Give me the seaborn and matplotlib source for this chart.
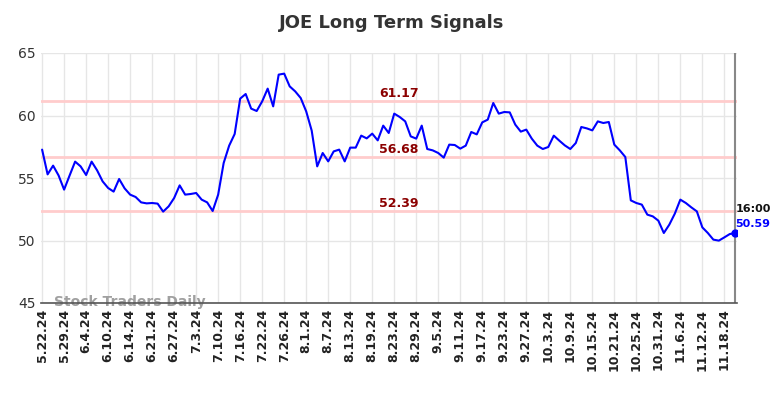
import matplotlib
matplotlib.use("Agg")
import matplotlib.pyplot as plt
import seaborn as sns
import pandas as pd
import numpy as np

title = "JOE Long Term Signals"
tick_labels = ["5.22.24", "5.29.24", "6.4.24", "6.10.24", "6.14.24", "6.21.24", "6.27.24",
               "7.3.24", "7.10.24", "7.16.24", "7.22.24", "7.26.24", "8.1.24", "8.7.24",
               "8.13.24", "8.19.24", "8.23.24", "8.29.24", "9.5.24", "9.11.24", "9.17.24",
               "9.23.24", "9.27.24", "10.3.24", "10.9.24", "10.15.24", "10.21.24", "10.25.24",
               "10.31.24", "11.6.24", "11.12.24", "11.18.24"]
tick_step = 4
values = [57.27, 55.29, 55.99, 55.2, 54.07, 55.2, 56.31, 55.93, 55.24, 56.31,
          55.61, 54.73, 54.2, 53.91, 54.92, 54.17, 53.67, 53.48, 53.05, 52.97,
          53.0, 52.95, 52.31, 52.73, 53.4, 54.41, 53.67, 53.72, 53.8, 53.27,
          53.05, 52.36, 53.67, 56.2, 57.59, 58.52, 61.35, 61.72, 60.55, 60.36,
          61.13, 62.15, 60.73, 63.27, 63.35, 62.33, 61.93, 61.4, 60.33, 58.79,
          55.93, 57.0, 56.33, 57.13, 57.27, 56.33, 57.43, 57.43, 58.39, 58.17,
          58.55, 58.01, 59.19, 58.6, 60.15, 59.88, 59.53, 58.33, 58.15, 59.19,
          57.32, 57.21, 57.0, 56.63, 57.67, 57.64, 57.35, 57.59, 58.68, 58.49,
          59.45, 59.67, 61.0, 60.15, 60.28, 60.25, 59.27, 58.71, 58.87, 58.15,
          57.59, 57.32, 57.48, 58.39, 57.99, 57.61, 57.32, 57.8, 59.08, 58.97,
          58.81, 59.53, 59.4, 59.48, 57.67, 57.21, 56.68, 53.21, 53.0, 52.87,
          52.07, 51.93, 51.59, 50.6, 51.27, 52.15, 53.27, 53.0, 52.65, 52.33,
          51.05, 50.6, 50.07, 49.99, 50.25, 50.52, 50.59]
levels = [61.17, 56.68, 52.39]
level_labels = ["61.17", "56.68", "52.39"]
last_time = "16:00"
last_label = "50.59"
watermark = "Stock Traders Daily"

sns.set_theme(style="white")
plt.rcParams['font.family'] = ['DejaVu Sans']

df = pd.DataFrame({"i": np.arange(len(values)), "v": values})
n = len(values)

fig = plt.figure(figsize=(7.84, 3.98), dpi=100)
ax = fig.add_axes([41 / 784, 1 - 303 / 398, (737 - 41) / 784, (303 - 53) / 398])

ax.set_xlim(-0.2, n - 1 + 0.3)
ax.set_ylim(45, 65)

tick_pos = [k * tick_step for k in range(len(tick_labels))]
ax.set_xticks(tick_pos)
ax.set_xticklabels(tick_labels, rotation=90, fontsize=9, fontweight='bold', color='#222222')
ax.set_yticks([45, 50, 55, 60, 65])
ax.set_yticklabels(["45", "50", "55", "60", "65"], fontsize=10, color='#333333')
ax.tick_params(axis='both', length=0, pad=4)
ax.grid(True, color='#e6e6e6', linewidth=1)
ax.set_axisbelow(True)

for lv in levels:
    ax.axhline(lv, color='#ffcccc', linewidth=2, zorder=1)

sns.lineplot(data=df, x="i", y="v", ax=ax, color='#0000ff', linewidth=1.5, zorder=3)
ax.plot([n - 1], [values[-1]], 'o', color='#0000ff', markersize=5, zorder=4)

for lv, lab in zip(levels, level_labels):
    ax.text(64.9, lv + 0.05, lab, color='#8b0000', fontsize=9, fontweight='bold',
            ha='center', va='bottom', zorder=5)

ax.text(n - 1, values[-1] + 1.9, last_time, color='#111111', fontsize=8, fontweight='bold',
        ha='left', va='center', clip_on=False)
ax.text(n - 1, values[-1] + 0.75, last_label, color='#0000ff', fontsize=8, fontweight='bold',
        ha='left', va='center', clip_on=False)

ax.text(2.2, 45.05, watermark, color='#a0a0a0', fontsize=10, fontweight='bold',
        ha='left', va='center', zorder=2, clip_on=False)

ax.set_xlabel("")
ax.set_ylabel("")
for s in ['top', 'left']:
    ax.spines[s].set_visible(False)
ax.spines['right'].set_visible(False)
ax.spines['bottom'].set_color('#555555')
ax.spines['bottom'].set_linewidth(1.2)
ax.axvline(n - 1, color='#888888', linewidth=1.5, zorder=2)

fig.suptitle(title, x=0.5, y=0.965, fontsize=13, fontweight='bold', color='#333333')

fig.savefig("out.png", dpi=100)
